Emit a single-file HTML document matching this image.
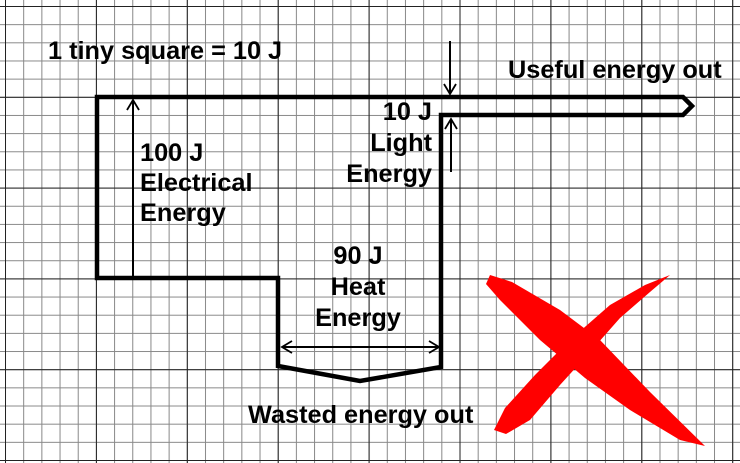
<!DOCTYPE html>
<html><head><style>
html,body{margin:0;padding:0;background:#fff}
svg{display:block}
text{font-family:"Liberation Sans",sans-serif;font-weight:bold;font-size:25.3px;fill:#000}
</style></head><body>
<svg width="740" height="463" viewBox="0 0 740 463" xmlns="http://www.w3.org/2000/svg">
<defs>
<pattern id="minor" x="5" y="6" width="18.18" height="18.16" patternUnits="userSpaceOnUse">
<path d="M0 0V18.16M0 0H18.18" stroke="#888" stroke-width="2" fill="none"/>
</pattern>
<pattern id="major" x="5" y="6" width="90.9" height="90.8" patternUnits="userSpaceOnUse">
<path d="M0 0V90.8M0 0H90.9" stroke="#222" stroke-width="2" fill="none"/>
</pattern>
<marker id="ah" markerWidth="14" markerHeight="14" refX="11" refY="7" orient="auto" markerUnits="userSpaceOnUse">
<path d="M1 1L11 7L1 13" fill="none" stroke="#000" stroke-width="1.8"/>
</marker>
</defs>
<rect width="740" height="463" fill="#fff"/>
<rect width="740" height="463" fill="url(#minor)"/>
<rect width="740" height="463" fill="url(#major)"/>
<path d="M97 278V97H683L692 106L683 115H441V367L360 381L278 366V278Z" fill="none" stroke="#000" stroke-width="4.5" stroke-linejoin="miter"/>
<g stroke="#000" stroke-width="2" fill="none">
<line x1="133" y1="277" x2="133" y2="100" marker-end="url(#ah)"/>
<line x1="360" y1="347" x2="282" y2="347" marker-end="url(#ah)"/>
<line x1="360" y1="347" x2="439" y2="347" marker-end="url(#ah)"/>
<line x1="450" y1="41" x2="450" y2="94" marker-end="url(#ah)"/>
<line x1="451" y1="172" x2="451" y2="119" marker-end="url(#ah)"/>
</g>
<text x="48" y="59">1 tiny square = 10 J</text>
<text x="508" y="78">Useful energy out</text>
<text x="432" y="120" text-anchor="end">10 J</text>
<text x="432" y="151" text-anchor="end">Light</text>
<text x="432" y="182" text-anchor="end">Energy</text>
<text x="140" y="161">100 J</text>
<text x="140" y="191">Electrical</text>
<text x="140" y="221">Energy</text>
<text x="358" y="264" text-anchor="middle">90 J</text>
<text x="358" y="295" text-anchor="middle">Heat</text>
<text x="358" y="326" text-anchor="middle">Energy</text>
<text x="248" y="423">Wasted energy out</text>
<g fill="#f00">
<path d="M490 275L512 282L560 310L600 340L650 392L705 446L680 440L630 410L585 378L540 340L500 300L486 284Z"/>
<path d="M670 275L650 292L620 318L590 352L560 385L530 420L506 434L494 430L505 408L535 375L570 340L610 305L645 285Z"/>
</g>
</svg>
</body></html>
